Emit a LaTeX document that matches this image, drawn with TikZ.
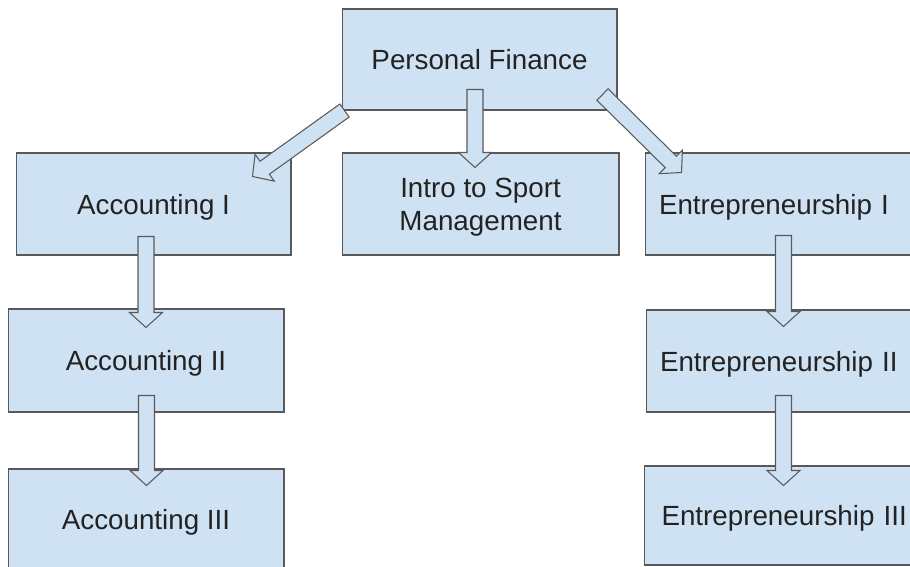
\documentclass[tikz,border=0pt]{standalone}
\usepackage{fontspec}
\setmainfont{Liberation Sans}
\usetikzlibrary{calc}
\definecolor{boxblue}{HTML}{CFE2F3}
\definecolor{edgegray}{HTML}{595959}
\definecolor{textgray}{HTML}{222222}
\tikzset{
  course/.style={draw=edgegray, fill=boxblue, line width=0.6pt, minimum width=5.5cm, minimum height=2.04cm,
    inner sep=0pt, text depth=0pt, text=textgray, align=center, font=\fontsize{15.8}{18.8}\selectfont},
  entcourse/.style={course, text width=4.94cm, align=left},
  blockarrow/.style={draw=edgegray, fill=boxblue, line width=0.6pt, line join=miter}
}
% hollow block arrow from #1 (tail) to #2 (tip)
\newcommand{\blockarr}[2]{%
  \coordinate (neck) at ($(#2)!0.3cm!(#1)$);
  \draw[blockarrow] ($(#1)!0.16cm!90:(#2)$) -- ($(neck)!0.16cm!-90:(#1)$) -- ($(neck)!0.33cm!-90:(#1)$) -- (#2)
    -- ($(neck)!0.33cm!90:(#1)$) -- ($(neck)!0.16cm!90:(#1)$) -- ($(#1)!0.16cm!-90:(#2)$) -- cycle;
}
\begin{document}
\begin{tikzpicture}[x=0.02cm,y=0.02cm]
		\useasboundingbox (0,0) rectangle (910,-567);
		
		\node[course, minimum height=2.02cm] (pf) at (479.5,-59.5) {Personal Finance};
		\node[course, minimum width=5.54cm] (intro) at (480.5,-204) {Intro to Sport\\Management};
		
		\node[course] (acc1) at (153.5,-204) {Accounting I};
		\node[course, minimum width=5.52cm, minimum height=2.06cm] (acc2) at (146,-360.5) {Accounting II};
		\node[course, minimum width=5.52cm, minimum height=2.02cm] (acc3) at (146,-519.5) {Accounting III};
		
		\node[entcourse] (ent1) at (782.5,-204) {Entrepreneurship I};
		\node[entcourse, minimum height=2.04cm] (ent2) at (783.5,-361) {Entrepreneurship II};
		\node[entcourse, text width=4.8cm, minimum height=1.98cm] (ent3) at (781.5,-515.5) {\mbox{Entrepreneurship III}};
		
		% arrow ends
		\coordinate (pfL) at ($(pf.south west)+(3,0)$);   \coordinate (acc1T) at ($(acc1.north east)+(-39,-24)$);
		\coordinate (pfM) at ($(pf.south)+(-4.5,21)$);    \coordinate (introT) at ($(intro.north)+(-5.5,-15)$);
		\coordinate (pfR) at ($(pf.south east)+(-15,16)$); \coordinate (ent1T) at ($(ent1.north west)+(37,-20)$);
		\coordinate (acc1B) at ($(acc1.south)+(-7.5,19)$); \coordinate (acc2T) at ($(acc2.north)+(0,-19)$);
		\coordinate (acc2B) at ($(acc2.south)+(0.5,17)$);  \coordinate (acc3T) at ($(acc3.north)+(0.5,-17)$);
		\coordinate (ent1B) at ($(ent1.south)+(1,20)$);    \coordinate (ent2T) at ($(ent2.north)+(0,-17)$);
		\coordinate (ent2B) at ($(ent2.south)+(0,17)$);    \coordinate (ent3T) at ($(ent3.north)+(2,-20)$);
		
		\blockarr{pfL}{acc1T}
		\blockarr{pfM}{introT}
		\blockarr{pfR}{ent1T}
		\blockarr{acc1B}{acc2T}
		\blockarr{acc2B}{acc3T}
		\blockarr{ent1B}{ent2T}
		\blockarr{ent2B}{ent3T}
		\end{tikzpicture}
\end{document}
